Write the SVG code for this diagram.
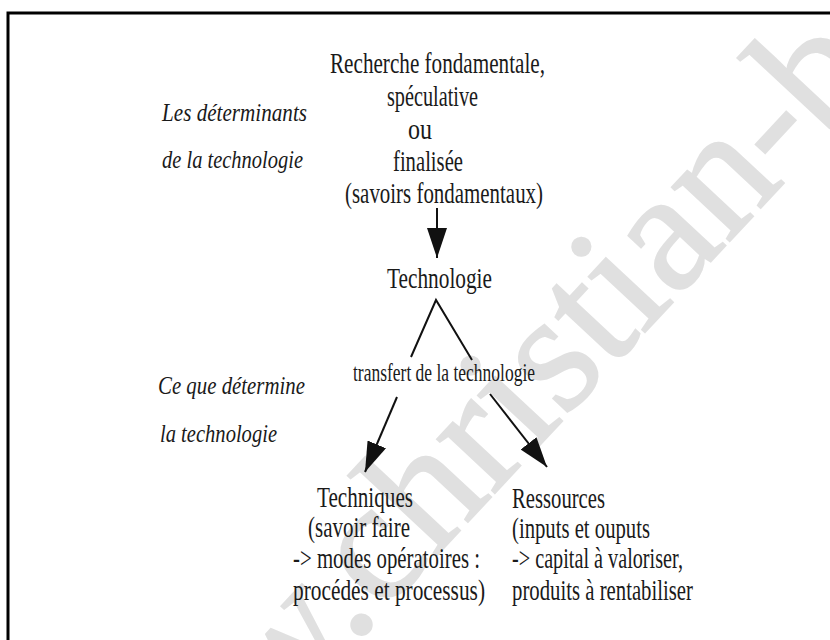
<svg xmlns="http://www.w3.org/2000/svg" width="830" height="640" viewBox="0 0 830 640">
<defs>
<style>
.t{font-family:"Liberation Serif","Times New Roman",serif;font-size:29px;fill:#1a1a1a}
.s{font-size:25px}
.i{font-family:"Liberation Serif","Times New Roman",serif;font-style:italic;font-size:26px;fill:#1a1a1a}
.ln{stroke:#111;stroke-width:2;fill:none}
.wm{font-family:"Liberation Serif","Times New Roman",serif;font-size:172px;fill:#e0e0e0;stroke:#e0e0e0;stroke-width:2}
</style>
<marker id="ah" markerUnits="userSpaceOnUse" viewBox="0 0 30 20" refX="30" refY="10" markerWidth="30" markerHeight="20" orient="auto">
<path d="M0,0 L30,10 L0,20 z" fill="#111"/>
</marker>
</defs>
<rect width="830" height="640" fill="#fff"/>
<text class="wm" transform="translate(106,910) rotate(-47)">www.christian-b</text>
<path d="M8,640 V13 H830" fill="none" stroke="#000" stroke-width="3"/>
<g id="labels">
<text class="i" x="162" y="121" textLength="145" lengthAdjust="spacingAndGlyphs">Les déterminants</text>
<text class="i" x="162" y="168" textLength="141" lengthAdjust="spacingAndGlyphs">de la technologie</text>
<text class="i" x="158" y="394" textLength="147" lengthAdjust="spacingAndGlyphs">Ce que détermine</text>
<text class="i" x="160" y="442" textLength="117" lengthAdjust="spacingAndGlyphs">la technologie</text>
</g>
<g id="recherche">
<text class="t" x="330" y="73" textLength="215" lengthAdjust="spacingAndGlyphs">Recherche fondamentale,</text>
<text class="t" x="387" y="106" textLength="91" lengthAdjust="spacingAndGlyphs">spéculative</text>
<text class="t" x="408" y="139" textLength="24" lengthAdjust="spacingAndGlyphs">ou</text>
<text class="t" x="393" y="171" textLength="70" lengthAdjust="spacingAndGlyphs">finalisée</text>
<text class="t" x="345" y="203" textLength="198" lengthAdjust="spacingAndGlyphs">(savoirs fondamentaux)</text>
</g>
<g id="technologie">
<text class="t" x="387" y="288" textLength="105" lengthAdjust="spacingAndGlyphs">Technologie</text>
</g>
<g id="transfert">
<text class="t s" x="353" y="381" textLength="182" lengthAdjust="spacingAndGlyphs">transfert de la technologie</text>
</g>
<g id="techniques">
<text class="t" x="317" y="507" textLength="96" lengthAdjust="spacingAndGlyphs">Techniques</text>
<text class="t" x="308" y="537" textLength="102" lengthAdjust="spacingAndGlyphs">(savoir faire</text>
<text class="t" x="293" y="568" textLength="187" lengthAdjust="spacingAndGlyphs">-&gt; modes opératoires :</text>
<text class="t" x="293" y="600" textLength="192" lengthAdjust="spacingAndGlyphs">procédés et processus)</text>
</g>
<g id="ressources">
<text class="t" x="512" y="508" textLength="93" lengthAdjust="spacingAndGlyphs">Ressources</text>
<text class="t" x="512" y="538" textLength="138" lengthAdjust="spacingAndGlyphs">(inputs et ouputs</text>
<text class="t" x="512" y="568" textLength="171" lengthAdjust="spacingAndGlyphs">-&gt; capital à valoriser,</text>
<text class="t" x="512" y="600" textLength="181" lengthAdjust="spacingAndGlyphs">produits à rentabiliser</text>
</g>
<g id="connectors">
<line class="ln" x1="437" y1="208" x2="437" y2="258" marker-end="url(#ah)"/>
<polyline class="ln" points="411,357 436,300 472,360"/>
<line class="ln" x1="397" y1="397" x2="365" y2="472" marker-end="url(#ah)"/>
<line class="ln" x1="490" y1="394" x2="547" y2="467" stroke-width="2.5" marker-end="url(#ah)"/>
</g>
</svg>
